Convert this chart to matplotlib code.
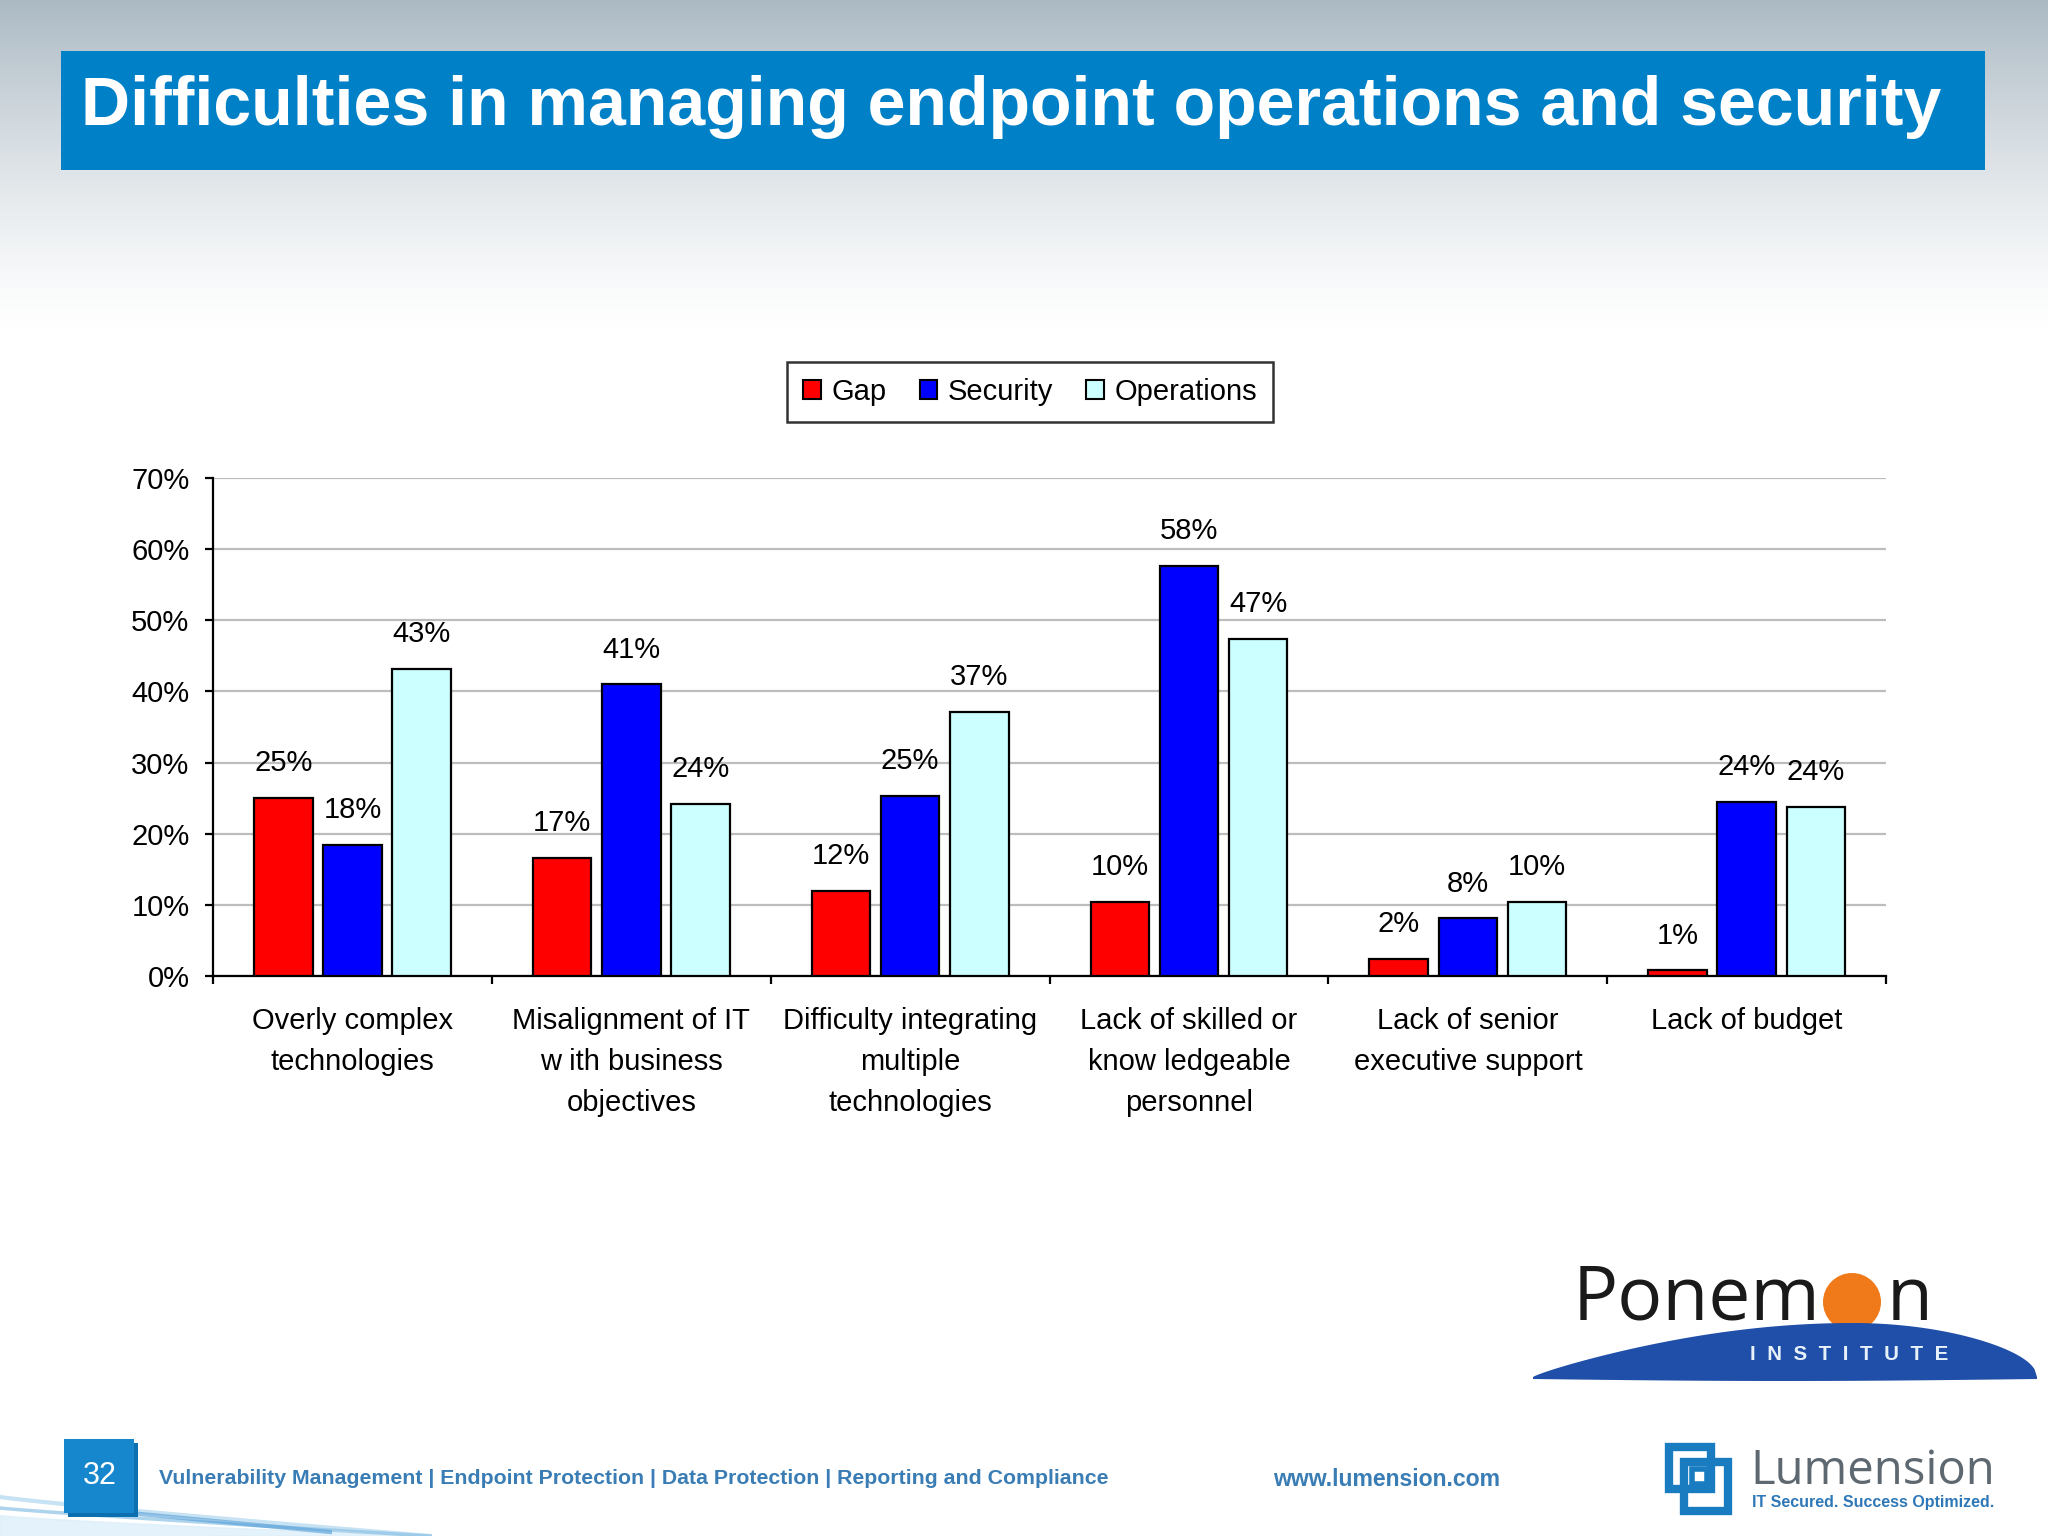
import numpy as np
import matplotlib
matplotlib.use("Agg")
import matplotlib.pyplot as plt
from matplotlib.patches import Rectangle, Circle, Polygon, Patch
from matplotlib.ticker import FixedLocator, FuncFormatter

# ---------------- data ----------------
categories = [
    "Overly complex\ntechnologies",
    "Misalignment of IT\nw ith business\nobjectives",
    "Difficulty integrating\nmultiple\ntechnologies",
    "Lack of skilled or\nknow ledgeable\npersonnel",
    "Lack of senior\nexecutive support",
    "Lack of budget",
]
series_names = ["Gap", "Security", "Operations"]
gap = [25.0, 16.6, 12.0, 10.4, 2.4, 0.8]
security = [18.4, 41.0, 25.3, 57.6, 8.1, 24.5]
operations = [43.2, 24.2, 37.1, 47.4, 10.4, 23.8]
yticks = [0, 10, 20, 30, 40, 50, 60, 70]

title = "Difficulties in managing endpoint operations and security"
footer_text = "Vulnerability Management | Endpoint Protection | Data Protection | Reporting and Compliance"
page_number = "32"
website = "www.lumension.com"

colors = ["#FF0000", "#0000FF", "#CCFFFF"]

W, H = 2048, 1536
plt.rcParams["font.family"] = ["Liberation Sans", "DejaVu Sans"]
fig = plt.figure(figsize=(W / 100, H / 100), dpi=100)

# ---------------- background (slide) ----------------
bg = fig.add_axes([0, 0, 1, 1], zorder=0)
bg.set_xlim(0, W)
bg.set_ylim(H, 0)
bg.axis("off")
yy = np.arange(H)
t = np.clip(1 - yy / 330.0, 0, 1) ** 1.3
top = np.array([172, 186, 196]) / 255.0
white = np.array([1.0, 1.0, 1.0])
grad = white[None, :] - (white - top)[None, :] * t[:, None]
bg.imshow(grad[:, None, :], extent=[0, W, H, 0], aspect="auto", zorder=0)

# swoosh bottom left
xs = np.linspace(0, 430, 200)
bg.fill_between(xs, 1536, 1515 + 21 * (xs / 430) ** 0.8, color="#DCEFFA", alpha=0.8, zorder=1)
bg.plot(xs, 1497 + 39 * (xs / 430) ** 0.9, color="#B9DBF0", lw=3, alpha=0.8, zorder=1)
bg.plot(xs, 1508 + 28 * (xs / 430) ** 0.9, color="#8CC2E6", lw=2.5, alpha=0.7, zorder=1)
xs2 = np.linspace(130, 330, 100)
bg.plot(xs2, 1513 + 19 * ((xs2 - 130) / 200), color="#4E9BD6", lw=3, alpha=0.6, zorder=1)

# title bar
bg.add_patch(Rectangle((61, 51), 1924, 119, facecolor="#0080C6", edgecolor="none", zorder=2))
bg.text(81, 107, title, color="white", fontsize=49, fontweight="bold",
        va="center", ha="left", zorder=3)

# footer
bg.add_patch(Rectangle((68, 1443), 70, 74, facecolor="#0C6FB0", edgecolor="none", zorder=2))
bg.add_patch(Rectangle((64, 1439), 70, 74, facecolor="#1687CD", edgecolor="none", zorder=2))
bg.text(100, 1476, page_number, color="white", fontsize=22, va="center", ha="center",
        zorder=3)
bg.text(159, 1479, footer_text, color="#3A7DB5", fontsize=15.3, fontweight="bold",
        va="center", ha="left", zorder=3)
bg.text(1273, 1479, website, color="#3A7DB5", fontsize=16.6, fontweight="bold",
        va="center", ha="left", zorder=3)

# Ponemon logo
arc_x = np.linspace(1533, 2037, 200)
peak = 1853
left_part = arc_x <= peak
arc_top = np.where(left_part,
                   1377 - 54 * np.sin(np.pi / 2 * (arc_x - 1533) / (peak - 1533)) ** 0.85,
                   1377 - 54 * np.sin(np.pi / 2 * (2037 - arc_x) / (2037 - peak)) ** 0.5)
arc_bot = 1379 + 2 * np.sin(np.pi * (arc_x - 1533) / 504)
poly = np.vstack([np.column_stack([arc_x, arc_top]), np.column_stack([arc_x[::-1], arc_bot[::-1]])])
bg.add_patch(Circle((1852, 1302), 29, facecolor="#F07A1A", edgecolor="none", zorder=2))
bg.add_patch(Polygon(poly, closed=True, facecolor="#1F4FA8", edgecolor="none", zorder=3))
bg.text(1573, 1320, "Ponem", color="#1A1A1A", fontsize=54, va="baseline", ha="left",
        family=["Open Sans", "DejaVu Sans"], zorder=3)
bg.text(1887, 1320, "n", color="#1A1A1A", fontsize=54, va="baseline", ha="left",
        family=["Open Sans", "DejaVu Sans"], zorder=3)
bg.text(1849, 1355, "I  N  S  T  I  T  U  T  E", color="#E6F1FA", fontsize=14.8, fontweight="bold",
        va="center", ha="center", zorder=4)

# Lumension logo
bg.add_patch(Rectangle((1669, 1447), 42, 42, facecolor="none", edgecolor="#1A7CC0", lw=6, zorder=3))
bg.add_patch(Rectangle((1684, 1462), 44, 49, facecolor="none", edgecolor="#1A7CC0", lw=6, zorder=3))
bg.add_patch(Rectangle((1692, 1469), 15, 15, facecolor="none", edgecolor="#1A7CC0", lw=4, zorder=3))
bg.text(1750, 1484, "Lumension", color="#5E6870", fontsize=34, va="baseline", ha="left",
        family=["Open Sans", "DejaVu Sans"], zorder=3)
bg.text(1752, 1503, "IT Secured. Success Optimized.", color="#2F78B8", fontsize=11.5,
        fontweight="bold", va="center", ha="left", zorder=3)

# ---------------- chart ----------------
ax = fig.add_axes([0.104, 0.3646, 0.817, 0.3242], zorder=5)
ax.set_facecolor("none")
x = np.arange(len(categories))
width = 0.21
step = 0.248
all_series = [gap, security, operations]
for i, (vals, name, col) in enumerate(zip(all_series, series_names, colors)):
    pos = x + (i - 1) * step
    ax.bar(pos, vals, width=width, color=col, edgecolor="black", linewidth=1.6,
           label=name, zorder=3)
    for p, v in zip(pos, vals):
        ax.annotate(f"{v:.0f}%", (p, v), xytext=(0, 25), textcoords="offset points",
                    ha="center", va="center", fontsize=21, color="black")

ax.set_xlim(-0.5, len(categories) - 0.5)
ax.set_ylim(0, 70)
ax.yaxis.set_major_locator(FixedLocator(yticks))
ax.yaxis.set_major_formatter(FuncFormatter(lambda v, _: f"{v:.0f}%"))
ax.grid(axis="y", color="#BDBDBD", linewidth=1.6, zorder=0)
ax.set_axisbelow(True)
for s in ["top", "right"]:
    ax.spines[s].set_visible(False)
for s in ["left", "bottom"]:
    ax.spines[s].set_linewidth(1.6)
    ax.spines[s].set_color("black")

ax.set_xticks(x)
ax.set_xticklabels(categories, fontsize=21, linespacing=1.6, va="top")
ax.set_xticks(np.arange(-0.5, len(categories)), minor=True)
ax.tick_params(axis="x", which="major", length=0, pad=22)
ax.tick_params(axis="x", which="minor", length=6, width=1.6, direction="out")
ax.tick_params(axis="y", which="major", length=6, width=1.6, pad=11, labelsize=21)

handles = [Patch(facecolor=c, edgecolor="black", linewidth=1.5) for c in colors]
leg = fig.legend(handles, series_names, loc="center", bbox_to_anchor=(0.503, 0.745),
                 ncol=3, fontsize=21, frameon=True, fancybox=False, shadow=False,
                 handlelength=0.6, handleheight=0.6, handletextpad=0.35,
                 columnspacing=1.15, borderpad=0.55)
leg.get_frame().set_edgecolor("black")
leg.get_frame().set_linewidth(1.8)
leg.set_zorder(6)

fig.savefig("out.png", dpi=100)
